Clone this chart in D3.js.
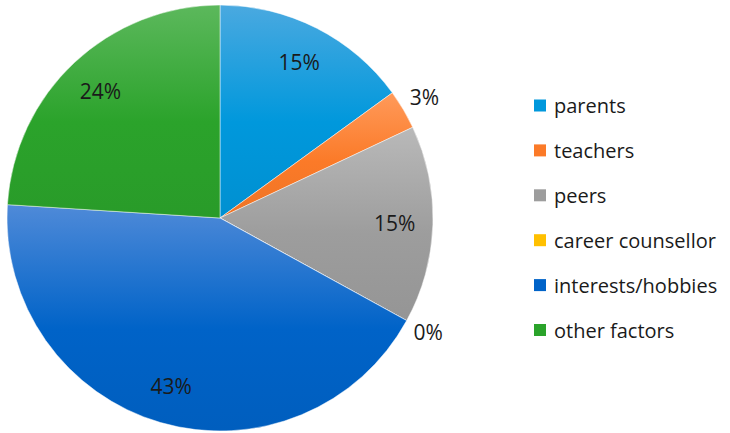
<!DOCTYPE html>
<html>
<head>
<meta charset="utf-8">
<script src="https://cdn.jsdelivr.net/npm/d3@7"></script>
<style>
  html, body { margin: 0; padding: 0; background: #fff; }
  svg { display: block; }
  text { font-family: "Open Sans", "Noto Sans", sans-serif; fill: #1a1a1a; }
</style>
</head>
<body>
<svg id="chart" width="730" height="433"></svg>
<script>
// Influences on career choice (percent of respondents)
const categories = ["parents", "teachers", "peers", "career counsellor", "interests/hobbies", "other factors"];
const values = [15, 3, 15, 0, 43, 24];
const labels = ["15%", "3%", "15%", "0%", "43%", "24%"];
const baseColors = ["#0098dc", "#fb7a28", "#9d9d9d", "#ffc000", "#0063c8", "#2ba32b"];
const topColors  = ["#4aa9e0", "#ff9a5a", "#b9b9b9", "#ffd24d", "#4f8ad8", "#5cb85c"];

const svg = d3.select("#chart");
const cx = 220, cy = 218, r = 213;

const defs = svg.append("defs");
categories.forEach((c, i) => {
  const g = defs.append("linearGradient")
    .attr("id", "grad" + i)
    .attr("x1", 0).attr("y1", 0).attr("x2", 0).attr("y2", 1);
  g.append("stop").attr("offset", "0%").attr("stop-color", topColors[i]);
  g.append("stop").attr("offset", "55%").attr("stop-color", baseColors[i]);
  g.append("stop").attr("offset", "100%").attr("stop-color", d3.color(baseColors[i]).darker(0.15));
});

const pie = d3.pie().value(d => d).sort(null);
const arcs = pie(values);
const arc = d3.arc().innerRadius(0).outerRadius(r);
const labelArc = d3.arc().innerRadius(r * 0.82).outerRadius(r * 0.82);
const outerLabelArc = d3.arc().innerRadius(r * 1.115).outerRadius(r * 1.115);

const g = svg.append("g").attr("transform", `translate(${cx},${cy})`);

g.selectAll("path.slice")
  .data(arcs)
  .enter().append("path")
  .attr("class", "slice")
  .attr("d", arc)
  .attr("fill", (d, i) => `url(#grad${i})`)
  .attr("stroke", "rgba(255,255,255,0.6)")
  .attr("stroke-width", 0.8);

g.selectAll("text.val")
  .data(arcs)
  .enter().append("text")
  .attr("class", "val")
  .attr("transform", d => {
    const small = d.data < 5;
    const p = (small ? outerLabelArc : labelArc).centroid(d);
    return `translate(${p[0]},${p[1]})`;
  })
  .attr("text-anchor", "middle")
  .attr("dominant-baseline", "central")
  .attr("font-size", 21)
  .text((d, i) => labels[i]);

// Legend
const legendY = d3.scalePoint().domain(categories).range([105.5, 330]);
const legend = svg.append("g");
const items = legend.selectAll("g.item")
  .data(categories)
  .enter().append("g")
  .attr("class", "item")
  .attr("transform", d => `translate(534,${legendY(d)})`);

items.append("rect")
  .attr("x", 0).attr("y", -6)
  .attr("width", 12).attr("height", 12)
  .attr("fill", (d, i) => baseColors[i]);

items.append("text")
  .attr("x", 20)
  .attr("y", 0)
  .attr("dominant-baseline", "central")
  .attr("font-size", 20)
  .text(d => d);
</script>
</body>
</html>
